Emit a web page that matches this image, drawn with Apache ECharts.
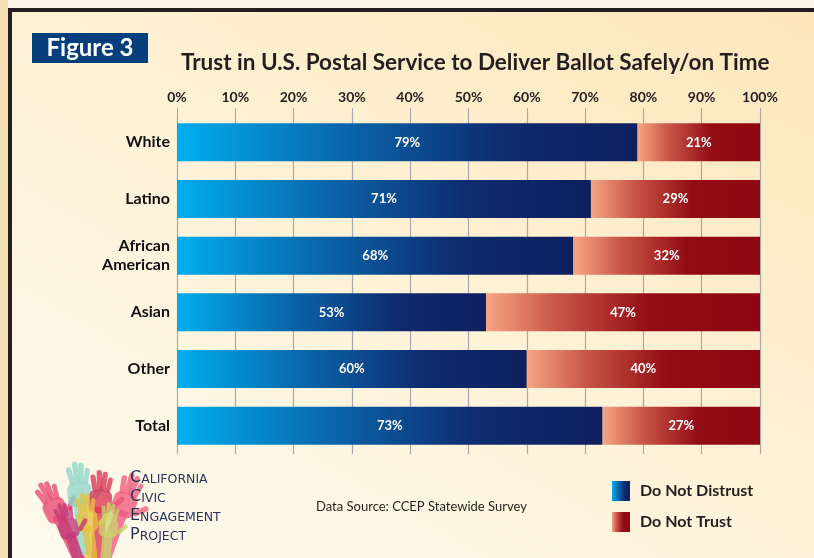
<!DOCTYPE html>
<html>
<head>
<meta charset="utf-8">
<script src="https://cdn.jsdelivr.net/npm/echarts@6/dist/echarts.min.js"></script>
<style>
  html, body { margin: 0; padding: 0; }
  #page {
    position: relative;
    width: 814px;
    height: 558px;
    overflow: hidden;
    background: linear-gradient(to right, #f3deb6 0px, #f3deb6 8px, #fbf4e8 8px);
  }
  #panel {
    position: absolute;
    left: 8px;
    top: 8px;
    width: 806px;
    height: 550px;
    box-sizing: border-box;
    border-left: 4px solid #231f20;
    border-top: 4px solid #231f20;
    background: linear-gradient(30deg, #fffaee 0%, #fef3da 45%, #fde6ba 100%);
  }
  #chart {
    position: absolute;
    left: 0;
    top: 0;
    width: 814px;
    height: 558px;
  }
</style>
</head>
<body>
<div id="page">
  <div id="panel"></div>
  <div id="chart"></div>
</div>
<script>
const categories = ['White', 'Latino', 'African\nAmerican', 'Asian', 'Other', 'Total']
const doNotDistrust = [79, 71, 68, 53, 60, 73]
const doNotTrust = [21, 29, 32, 47, 40, 27]
const seriesNames = ['Do Not Distrust', 'Do Not Trust']
const logoLines = ['California', 'Civic', 'Engagement', 'Project']

const fontFamily = 'Lato, "Open Sans", sans-serif'

const blueGradient = new echarts.graphic.LinearGradient(0, 0, 1, 0, [
  { offset: 0, color: '#00aeef' },
  { offset: 0.35, color: '#0a68ad' },
  { offset: 0.7, color: '#0e2c70' },
  { offset: 1, color: '#0e1f5e' },
])

const redGradient = new echarts.graphic.LinearGradient(0, 0, 1, 0, [
  { offset: 0, color: '#f6a584' },
  { offset: 0.25, color: '#c95748' },
  { offset: 0.6, color: '#930c14' },
  { offset: 1, color: '#8e0811' },
])

// stylised hands for the logo
function hand(x, y, rotation, scale, color) {
  const fingers = [
    { x: -11, y: -30, w: 5, h: 17, rot: 0.2 },
    { x: -5, y: -35, w: 5, h: 20, rot: 0.07 },
    { x: 1, y: -34, w: 5, h: 19, rot: -0.07 },
    { x: 7, y: -29, w: 4.5, h: 15, rot: -0.2 },
  ]
  const children = [
    { type: 'rect', shape: { x: -6, y: 0, width: 12, height: 50 }, style: { fill: color } },
    { type: 'rect', shape: { x: -11, y: -16, width: 22, height: 22, r: 6 }, style: { fill: color } },
    {
      type: 'rect',
      shape: { x: 0, y: -14, width: 5, height: 15, r: 2 },
      x: 10, y: -2, rotation: -0.8,
      style: { fill: color },
    },
  ]
  fingers.forEach((f) => {
    children.push({
      type: 'rect',
      shape: { x: 0, y: 0, width: f.w, height: f.h, r: 2.5 },
      x: f.x, y: f.y, rotation: f.rot,
      style: { fill: color },
    })
  })
  return {
    type: 'group',
    x, y, rotation,
    scaleX: scale, scaleY: scale,
    children: children.map((c) => ({ ...c, style: { ...c.style, opacity: 0.78 } })),
  }
}

const logoText = logoLines.map((word, i) => ({
  type: 'text',
  x: 130,
  y: 478 + i * 19,
  style: {
    text: `{big|${word[0]}}{small|${word.slice(1).toUpperCase()}}`,
    verticalAlign: 'middle',
    rich: {
      big: { fontSize: 16, fontFamily: '"DejaVu Sans", sans-serif', fill: '#24365a', verticalAlign: 'bottom' },
      small: { fontSize: 12.5, fontFamily: '"DejaVu Sans", sans-serif', fill: '#24365a', verticalAlign: 'bottom' },
    },
  },
}))

const labelStyle = {
  show: true,
  formatter: '{c}%',
  color: '#ffffff',
  fontFamily,
  fontWeight: 'bold',
  fontSize: 13,
}

const chart = echarts.init(document.getElementById('chart'))

chart.setOption({
  animation: false,
  backgroundColor: 'transparent',
  title: {
    text: 'Trust in U.S. Postal Service to Deliver Ballot Safely/on Time',
    left: 176,
    top: 46,
    textStyle: {
      fontFamily,
      fontWeight: 'bold',
      fontSize: 22.5,
      color: '#231f20',
    },
  },
  legend: {
    orient: 'vertical',
    left: 607,
    top: 476,
    itemWidth: 18,
    itemHeight: 20,
    itemGap: 11,
    icon: 'rect',
    data: seriesNames,
    textStyle: {
      fontFamily,
      fontWeight: 'bold',
      fontSize: 16,
      color: '#231f20',
      padding: [0, 0, 0, 5],
    },
  },
  grid: {
    left: 177,
    right: 54,
    top: 114,
    height: 340,
  },
  xAxis: {
    type: 'value',
    position: 'top',
    min: 0,
    max: 100,
    interval: 10,
    axisLine: { show: false },
    axisTick: {
      show: true,
      length: 6,
      lineStyle: { color: '#a9a9a9' },
    },
    axisLabel: {
      formatter: '{value}%',
      margin: 10,
      fontFamily,
      fontWeight: 'bold',
      fontSize: 14,
      color: '#231f20',
    },
    splitLine: {
      show: true,
      lineStyle: { color: '#a9a9a9', width: 1.2 },
    },
  },
  yAxis: {
    type: 'category',
    inverse: true,
    data: categories,
    axisLine: { show: true, lineStyle: { color: '#a9a9a9' } },
    axisTick: { show: false },
    axisLabel: {
      margin: 7,
      fontFamily,
      fontWeight: 'bold',
      fontSize: 16,
      lineHeight: 19,
      color: '#111111',
    },
  },
  series: [
    {
      name: seriesNames[0],
      type: 'bar',
      stack: 'total',
      barWidth: 38,
      data: doNotDistrust,
      itemStyle: { color: blueGradient },
      label: labelStyle,
    },
    {
      name: seriesNames[1],
      type: 'bar',
      stack: 'total',
      barWidth: 38,
      data: doNotTrust,
      itemStyle: { color: redGradient },
      label: labelStyle,
    },
  ],
  graphic: [
    {
      type: 'rect',
      shape: { x: 32, y: 33, width: 116, height: 30 },
      style: { fill: '#033f7c' },
    },
    {
      type: 'text',
      x: 90,
      y: 48,
      style: {
        text: 'Figure 3',
        fill: '#ffffff',
        fontFamily,
        fontWeight: 'bold',
        fontSize: 24,
        align: 'center',
        verticalAlign: 'middle',
      },
    },
    {
      type: 'text',
      x: 316,
      y: 507,
      style: {
        text: 'Data Source: CCEP Statewide Survey',
        fill: '#231f20',
        fontFamily,
        fontSize: 13,
        verticalAlign: 'middle',
      },
    },
    hand(58, 515, 0.45, 1.05, '#e8476e'),
    hand(80, 500, 0.08, 1.1, '#8fd3c8'),
    hand(100, 507, -0.05, 1.05, '#d83552'),
    hand(88, 526, 0.12, 0.95, '#e9c23c'),
    hand(122, 510, -0.35, 1.1, '#ee5a7c'),
    hand(108, 532, -0.1, 0.85, '#c7d66a'),
    hand(70, 533, 0.3, 0.9, '#c23a7a'),
    ...logoText,
  ],
})
</script>
</body>
</html>
